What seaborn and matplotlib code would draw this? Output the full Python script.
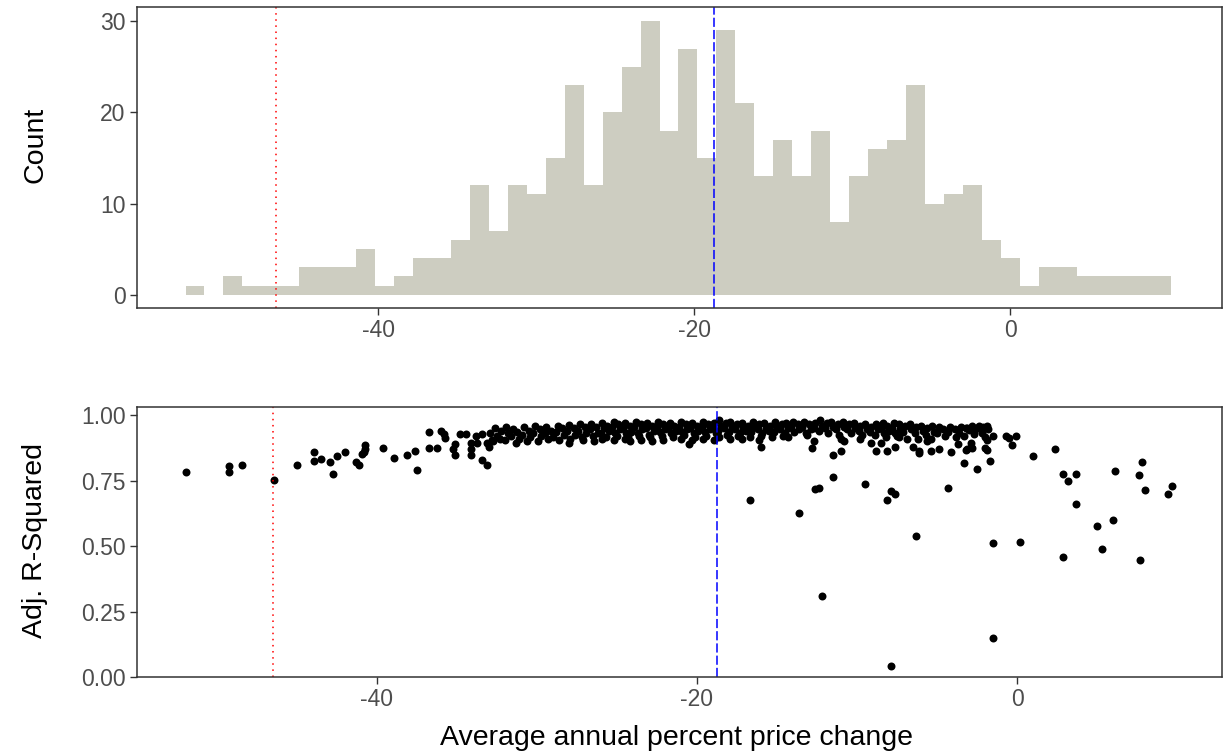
import numpy as np
import pandas as pd
import matplotlib
matplotlib.use("Agg")
import matplotlib.pyplot as plt
import seaborn as sns

# ---------------- data ----------------
# histogram (bin counts)
bin_start = -52.2
bin_width = 1.2
hist_counts = [1, 0, 2, 1, 1, 1, 3, 3, 3, 5, 1, 2, 4, 4, 6, 12, 7,
               12, 11, 15, 23, 12, 20, 25, 30, 18, 27, 15, 29, 21, 13, 17, 13, 18, 8, 13,
               16, 17, 23, 10, 11, 12, 6, 4, 1, 3, 3, 2, 2, 2, 2, 2]

red_line = -46.45
blue_line = -18.75

# dense band of the scatter
band_x = [
    -32.9, -32.8,
    -32.6, -32.5, -32.7,
    -32.2, -32.3,
    -31.9, -31.8, -32.0,
    -31.5, -31.6,
    -31.2, -31.1, -31.3,
    -30.8, -30.9,
    -30.5, -30.4, -30.6,
    -30.1, -30.2,
    -29.8, -29.7, -29.9,
    -29.4, -29.5, -29.3,
    -29.1, -29.0,
    -28.7, -28.8, -28.6,
    -28.4, -28.3,
    -28.0, -28.1, -27.9, -28.0,
    -27.7, -27.6,
    -27.3, -27.4, -27.2,
    -27.0, -26.9, -27.1,
    -26.6, -26.7, -26.5,
    -26.3, -26.2, -26.4,
    -25.9, -25.8, -26.0, -25.9,
    -25.6, -25.5, -25.7,
    -25.2, -25.3, -25.1, -25.2,
    -24.9, -24.8, -25.0,
    -24.5, -24.6, -24.4, -24.5,
    -24.2, -24.1, -24.3, -24.2,
    -23.8, -23.9, -23.7,
    -23.5, -23.4, -23.6, -23.5,
    -23.1, -23.2, -23.0,
    -22.8, -22.7, -22.9, -22.8,
    -22.4, -22.5, -22.3,
    -22.1, -22.0, -22.2, -22.1,
    -21.7, -21.8, -21.6,
    -21.4, -21.3, -21.5,
    -21.0, -21.1, -20.9, -21.0,
    -20.7, -20.6, -20.8,
    -20.3, -20.4, -20.2, -20.3,
    -20.0, -19.9, -20.1,
    -19.6, -19.7, -19.5, -19.6,
    -19.3, -19.2, -19.4,
    -18.9, -19.0, -18.8, -18.9,
    -18.6, -18.5, -18.7, -18.6,
    -18.2, -18.3, -18.1,
    -17.9, -17.8, -18.0, -17.9,
    -17.5, -17.6, -17.4,
    -17.2, -17.1, -17.3, -17.2,
    -16.8, -16.9, -16.7,
    -16.5, -16.4, -16.6,
    -16.1, -16.2, -16.0, -16.1,
    -15.8, -15.7, -15.9,
    -15.4, -15.5, -15.3,
    -15.1, -15.0, -15.2,
    -14.7, -14.8, -14.6,
    -14.4, -14.3, -14.5,
    -14.0, -14.1, -13.9,
    -13.7, -13.6,
    -13.3, -13.4, -13.2,
    -13.0, -12.9, -13.1,
    -12.6, -12.7,
    -12.3, -12.2, -12.4,
    -11.9, -12.0, -11.8,
    -11.6, -11.5,
    -11.2, -11.3, -11.1,
    -10.9, -10.8,
    -10.5, -10.6, -10.4,
    -10.2, -10.1,
    -9.8, -9.9, -9.7,
    -9.5, -9.4,
    -9.1, -9.2,
    -8.8, -8.7, -8.9,
    -8.4, -8.5, -8.3,
    -8.1, -8.0, -8.2,
    -7.7, -7.8, -7.6,
    -7.4, -7.3, -7.5,
    -7.0, -7.1, -6.9,
    -6.7, -6.6,
    -6.3, -6.4, -6.2,
    -6.0, -5.9,
    -5.6, -5.7,
    -5.3, -5.2, -5.4,
    -4.9, -5.0,
    -4.6, -4.5,
    -4.2, -4.3,
    -3.9, -3.8,
    -3.5, -3.6,
    -3.2, -3.3,
    -2.8, -2.7,
    -2.5,
    -2.1, -2.2,
    -1.8,
]
band_y = [
    0.930, 0.905,
    0.950, 0.920, 0.900,
    0.940, 0.910,
    0.955, 0.930, 0.905,
    0.945, 0.920,
    0.935, 0.910, 0.895,
    0.955, 0.925,
    0.940, 0.915, 0.900,
    0.960, 0.930,
    0.945, 0.920, 0.900,
    0.955, 0.930, 0.910,
    0.940, 0.915,
    0.960, 0.935, 0.905,
    0.950, 0.925,
    0.962, 0.940, 0.910, 0.895,
    0.950, 0.925,
    0.965, 0.940, 0.915,
    0.955, 0.930, 0.905,
    0.965, 0.945, 0.920,
    0.955, 0.930, 0.900,
    0.970, 0.950, 0.930, 0.910,
    0.960, 0.940, 0.915,
    0.975, 0.955, 0.930, 0.905,
    0.965, 0.945, 0.920,
    0.970, 0.950, 0.930, 0.910,
    0.960, 0.935, 0.915, 0.900,
    0.975, 0.955, 0.930,
    0.965, 0.945, 0.920, 0.905,
    0.970, 0.950, 0.925,
    0.960, 0.940, 0.915, 0.900,
    0.975, 0.955, 0.935,
    0.965, 0.945, 0.920, 0.905,
    0.970, 0.950, 0.930,
    0.960, 0.940, 0.915,
    0.975, 0.955, 0.935, 0.910,
    0.965, 0.945, 0.925,
    0.970, 0.950, 0.930, 0.905,
    0.960, 0.940, 0.915,
    0.975, 0.955, 0.935, 0.910,
    0.965, 0.945, 0.920,
    0.970, 0.950, 0.930, 0.905,
    0.980, 0.960, 0.940, 0.915,
    0.970, 0.950, 0.925,
    0.975, 0.955, 0.935, 0.910,
    0.965, 0.945, 0.920,
    0.970, 0.950, 0.930, 0.910,
    0.960, 0.940, 0.915,
    0.975, 0.955, 0.935,
    0.965, 0.945, 0.920, 0.905,
    0.970, 0.950, 0.930,
    0.960, 0.940, 0.915,
    0.975, 0.955, 0.935,
    0.965, 0.945, 0.920,
    0.970, 0.950, 0.930,
    0.975, 0.955, 0.935,
    0.965, 0.945,
    0.975, 0.955, 0.930,
    0.965, 0.945, 0.925,
    0.970, 0.950,
    0.980, 0.960, 0.940,
    0.970, 0.950, 0.930,
    0.975, 0.955,
    0.965, 0.945, 0.925,
    0.975, 0.955,
    0.965, 0.945, 0.930,
    0.970, 0.950,
    0.960, 0.940, 0.925,
    0.965, 0.945,
    0.955, 0.935,
    0.965, 0.945, 0.925,
    0.970, 0.950, 0.930,
    0.960, 0.940, 0.915,
    0.970, 0.950, 0.930,
    0.965, 0.945, 0.920,
    0.960, 0.935, 0.910,
    0.965, 0.945,
    0.955, 0.930, 0.910,
    0.960, 0.940,
    0.950, 0.925,
    0.960, 0.935, 0.910,
    0.955, 0.930,
    0.945, 0.920,
    0.955, 0.935,
    0.945, 0.915,
    0.955, 0.930,
    0.950, 0.920,
    0.960, 0.935,
    0.950,
    0.955, 0.930,
    0.945,
]

# sparse points of the scatter
spread_x = [-51.9, -49.2, -49.2, -48.4, -46.4, -45.0, -43.9, -43.9, -43.5, -42.9,
            -42.75, -42.5, -42.0, -41.3, -41.1, -40.9, -40.7, -40.7, -40.8, -39.6,
            -38.9, -38.1, -37.6, -37.5, -36.75, -36.7, -36.2, -36.0, -35.8, -35.7,
            -35.2, -35.1, -35.1, -34.8, -34.4, -34.1, -34.1, -34.1, -33.8, -33.7,
            -33.4, -33.1, -33.1, -33.0, -33.4,
            -20.5, -16.0, -16.7, -13.6, -12.2, -12.6, -12.4, -11.5, -9.5, -8.1,
            -7.9, -7.6, -7.9, -6.3, -4.3, -3.3, -2.5, -1.7, -1.5, -1.5,
            -14.3, -12.7, -12.8, -11.5, -11.0, -10.8, -11.0, -9.8, -9.1, -8.5,
            -8.8, -8.1, -7.6, -7.4, -6.5, -6.1, -6.1, -5.6, -5.4, -4.9,
            -4.1, -3.7, -3.1, -2.9, -2.7,
            -3.1, -3.0, -2.4, -1.9, -2.0, -1.9, -1.5, -2.9, -2.8, -3.2,
            -2.0, -1.9, -0.7, -0.5, -0.06, -0.3,
            0.2, 1.0, 2.4, 2.9, 3.2, 3.7, 3.7, 2.9, 5.0, 5.3,
            6.0, 6.1, 7.6, 7.8, 8.0, 7.7, 9.4, 9.7]
spread_y = [0.781, 0.804, 0.781, 0.809, 0.753, 0.809, 0.858, 0.824, 0.832, 0.819,
            0.776, 0.842, 0.859, 0.821, 0.808, 0.850, 0.885, 0.869, 0.860, 0.875,
            0.836, 0.847, 0.864, 0.792, 0.935, 0.875, 0.875, 0.939, 0.926, 0.913,
            0.869, 0.888, 0.847, 0.926, 0.926, 0.894, 0.869, 0.847, 0.920, 0.894,
            0.828, 0.808, 0.894, 0.879, 0.926,
            0.888, 0.879, 0.676, 0.627, 0.310, 0.716, 0.720, 0.765, 0.737, 0.676,
            0.711, 0.698, 0.043, 0.537, 0.720, 0.816, 0.793, 0.826, 0.510, 0.150,
            0.915, 0.902, 0.875, 0.847, 0.907, 0.902, 0.864, 0.907, 0.892, 0.892,
            0.864, 0.864, 0.879, 0.915, 0.879, 0.864, 0.854, 0.902, 0.864, 0.869,
            0.860, 0.888, 0.869, 0.879, 0.926,
            0.949, 0.943, 0.958, 0.958, 0.917, 0.905, 0.920, 0.892, 0.875, 0.866,
            0.873, 0.866, 0.921, 0.911, 0.921, 0.885,
            0.515, 0.842, 0.870, 0.776, 0.748, 0.776, 0.659, 0.459, 0.576, 0.487,
            0.598, 0.786, 0.770, 0.819, 0.714, 0.448, 0.697, 0.730]

x_ticks = [-40, -20, 0]
count_ticks = [0, 10, 20, 30]
r2_ticks = [0.00, 0.25, 0.50, 0.75, 1.00]
r2_labels = ["0.00", "0.25", "0.50", "0.75", "1.00"]

# ---------------- styling ----------------
sns.set_theme(style="white")
plt.rcParams["font.family"] = ["Liberation Sans", "DejaVu Sans"]
plt.rcParams["axes.unicode_minus"] = False

W, H = 1225, 756
fig = plt.figure(figsize=(W / 100, H / 100), dpi=100)
fig.patch.set_facecolor("white")

def px_rect(l, t, r, b):
    return [l / W, 1 - b / H, (r - l) / W, (b - t) / H]

ax1 = fig.add_axes(px_rect(136.7, 6.7, 1221.7, 308.3))
ax2 = fig.add_axes(px_rect(136.7, 406.7, 1221.7, 677.0))

tick_col = "#4D4D4D"
frame_col = "#333333"

# ---- histogram ----
n_bins = len(hist_counts)
bin_end = bin_start + bin_width * n_bins
centers = bin_start + bin_width * (np.arange(n_bins) + 0.5)
hist_df = pd.DataFrame({"x": centers, "w": hist_counts})
sns.histplot(data=hist_df, x="x", weights="w", bins=n_bins, binrange=(bin_start, bin_end),
             color="#CDCDC1", alpha=1, linewidth=0, edgecolor="none", ax=ax1)
ax1.axvline(red_line, color="#FF0000", linestyle=(0, (1, 3)), linewidth=1.1)
ax1.axvline(blue_line, color="#0000FF", linestyle=(0, (6, 2)), linewidth=1.1)
ax1.set_xlim(-55.29, 13.38)
ax1.set_ylim(-1.5, 31.6)
ax1.set_xticks(x_ticks)
ax1.set_yticks(count_ticks)
ax1.set_xlabel("")
ax1.set_ylabel("")

# ---- scatter ----
sc_df = pd.DataFrame({"x": band_x + spread_x, "y": band_y + spread_y})
sns.scatterplot(data=sc_df, x="x", y="y", color="black", s=33, linewidth=0, ax=ax2)
ax2.axvline(red_line, color="#FF0000", linestyle=(0, (1, 3)), linewidth=1.1)
ax2.axvline(blue_line, color="#0000FF", linestyle=(0, (6, 2)), linewidth=1.1)
ax2.set_xlim(-54.98, 12.78)
ax2.set_ylim(0.0, 1.032)
ax2.set_xticks(x_ticks)
ax2.set_yticks(r2_ticks)
ax2.set_yticklabels(r2_labels)
ax2.set_xlabel("")
ax2.set_ylabel("")

for ax in (ax1, ax2):
    for sp in ax.spines.values():
        sp.set_visible(True)
        sp.set_color(frame_col)
        sp.set_linewidth(1.1)
    ax.grid(False)
    ax.tick_params(axis="both", which="major", direction="out", length=5, width=1.0,
                   color=frame_col, labelcolor=tick_col, labelsize=16.5, pad=3,
                   bottom=True, left=True)

fig.text(35 / W, 1 - 145 / H, "Count", rotation=90, ha="center", va="center",
         fontsize=20.5, color="black")
fig.text(35 / W, 1 - 541 / H, "Adj. R-Squared", rotation=90, ha="center", va="center",
         fontsize=20.5, color="black")
fig.text(677 / W, 1 - 738 / H, "Average annual percent price change", ha="center",
         va="center", fontsize=20.5, color="black")

fig.savefig("out.png", dpi=100, facecolor="white")
